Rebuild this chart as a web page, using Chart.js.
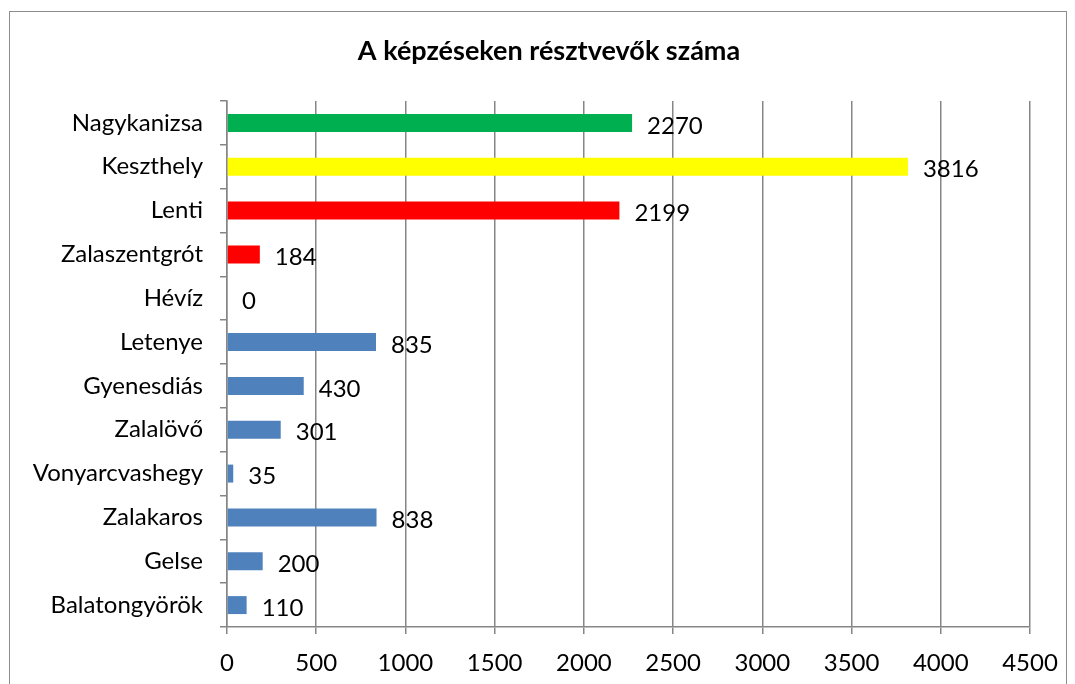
<!DOCTYPE html>
<html>
<head>
<meta charset="utf-8">
<script src="https://cdn.jsdelivr.net/npm/chart.js@4"></script>
<style>
  html, body { margin: 0; padding: 0; background: #fff; }
  #wrap { width: 1075px; height: 684px; }
</style>
</head>
<body>
<div id="wrap"><canvas id="myChart" width="1075" height="684"></canvas></div>
<script>
const towns = ["Nagykanizsa", "Keszthely", "Lenti", "Zalaszentgrót", "Hévíz", "Letenye",
  "Gyenesdiás", "Zalalövő", "Vonyarcvashegy", "Zalakaros", "Gelse", "Balatongyörök"];
const participants = [2270, 3816, 2199, 184, 0, 835, 430, 301, 35, 838, 200, 110];
const barColors = ["#00B050", "#FFFF00", "#FF0000", "#FF0000", "#4F81BD", "#4F81BD",
  "#4F81BD", "#4F81BD", "#4F81BD", "#4F81BD", "#4F81BD", "#4F81BD"];
const chartTitle = 'A képzéseken résztvevők száma';

const FONT = 'Lato, "Open Sans", sans-serif';
const gridCol = '#868686';

// outer frame + title (title sits a bit right of centre, as in the original)
const frame = {
  id: 'frame',
  beforeDraw(chart) {
    const { ctx } = chart;
    ctx.save();
    ctx.fillStyle = '#fff';
    ctx.fillRect(0, 0, chart.width, chart.height);
    ctx.strokeStyle = '#8c8c8c';
    ctx.lineWidth = 1;
    ctx.strokeRect(9.5, 11.5, 1057, 700);
    ctx.font = 'bold 27px ' + FONT;
    ctx.fillStyle = '#000';
    ctx.textAlign = 'center';
    ctx.textBaseline = 'middle';
    ctx.fillText(chartTitle, 549, 51);
    ctx.restore();
  }
};

// value labels to the right of each bar
const valueLabels = {
  id: 'valueLabels',
  afterDatasetsDraw(chart) {
    const { ctx } = chart;
    const meta = chart.getDatasetMeta(0);
    ctx.save();
    ctx.font = '24px ' + FONT;
    ctx.fillStyle = '#000';
    ctx.textAlign = 'left';
    ctx.textBaseline = 'middle';
    meta.data.forEach((bar, i) => {
      ctx.fillText(String(participants[i]), bar.x + 15, bar.y + 3);
    });
    ctx.restore();
  }
};

new Chart(document.getElementById('myChart'), {
  type: 'bar',
  data: {
    labels: towns,
    datasets: [{
      data: participants,
      backgroundColor: barColors,
      borderWidth: 0,
      barPercentage: 0.41,
      categoryPercentage: 1
    }]
  },
  options: {
    indexAxis: 'y',
    responsive: false,
    animation: false,
    layout: { padding: { left: 10, right: 45, top: 101, bottom: 0 } },
    plugins: {
      legend: { display: false },
      tooltip: { enabled: false },
      title: { display: false }
    },
    scales: {
      x: {
        min: 0,
        max: 4500,
        ticks: {
          stepSize: 500, color: '#000', font: { family: FONT, size: 24 }, padding: 15, maxRotation: 0,
          callback: v => String(v)
        },
        grid: { color: gridCol, lineWidth: 1.5, tickLength: 7, drawTicks: true },
        border: { color: gridCol, width: 1.5 },
        afterFit(scale) { scale.height = 57; }
      },
      y: {
        ticks: { color: '#000', font: { family: FONT, size: 24 }, padding: 17 },
        grid: { offset: true, drawOnChartArea: false, color: gridCol, lineWidth: 1.5, tickLength: 7 },
        border: { color: gridCol, width: 1.5 },
        afterFit(scale) { scale.width = 217; }
      }
    }
  },
  plugins: [frame, valueLabels]
});
</script>
</body>
</html>
